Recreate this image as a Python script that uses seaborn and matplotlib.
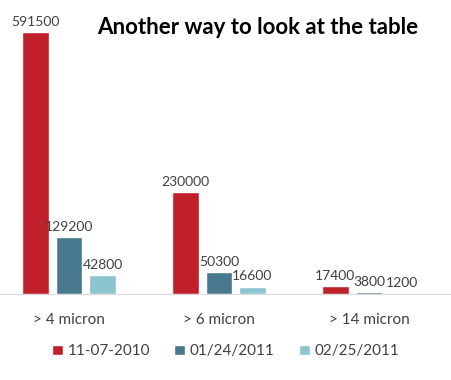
import pandas as pd
import matplotlib.pyplot as plt
import seaborn as sns

# Chart data
categories = ['> 4 micron', '> 6 micron', '> 14 micron']
dates = ['11-07-2010', '01/24/2011', '02/25/2011']
counts_nov = [591500, 230000, 17400]
counts_jan = [129200, 50300, 3800]
counts_feb = [42800, 16600, 1200]

colors = ['#C0202A', '#47788E', '#8CC5CE']

df = pd.DataFrame({
    'size': categories * 3,
    'date': [dates[0]] * 3 + [dates[1]] * 3 + [dates[2]] * 3,
    'count': counts_nov + counts_jan + counts_feb,
})

sns.set_style('white')
plt.rcParams['font.family'] = ['Lato', 'DejaVu Sans']

fig = plt.figure(figsize=(4.51, 3.80), dpi=100)
ax = fig.add_axes([0.0, 86 / 380, 1.0, 294 / 380])

sns.barplot(data=df, x='size', y='count', hue='date', palette=colors,
            width=0.67, gap=0.22, saturation=1, ax=ax, legend=True)

# value labels on top of each bar
for cont in ax.containers:
    ax.bar_label(cont, fmt='%d', padding=3, fontsize=10, color='#404040')

ax.set_ylim(0, 591500 * 294 / 262)
ax.set_xlim(-0.46, 2.547)
ax.set_xlabel('')
ax.set_ylabel('')
ax.set_yticks([])
ax.tick_params(axis='x', length=0, labelsize=11, labelcolor='#404040', pad=14)
for s in ['top', 'left', 'right']:
    ax.spines[s].set_visible(False)
ax.spines['bottom'].set_color('#D9D9D9')

# Title
fig.text(0.572, 0.927, 'Another way to look at the table', ha='center', va='center',
         fontsize=16, fontweight='bold', color='black')

# Legend at the bottom
handles, labels = ax.get_legend_handles_labels()
ax.legend(handles, labels, loc='center', bbox_to_anchor=(0.5, -0.195), ncol=3,
          frameon=False, fontsize=11, labelcolor='#404040', handlelength=0.7,
          handleheight=0.7, handletextpad=0.3, columnspacing=1.6)

plt.savefig('out.png', dpi=100)
